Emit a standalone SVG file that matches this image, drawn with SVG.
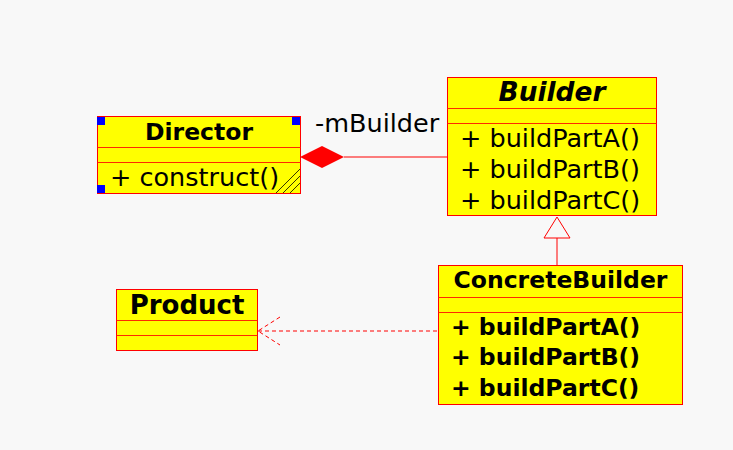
<svg xmlns="http://www.w3.org/2000/svg" width="733" height="450" viewBox="0 0 733 450">
<style>
.box{fill:#ffff00;stroke:#ff0000;stroke-width:1}
.sep{stroke:#ff2a00;stroke-width:1}
.t{font-family:"DejaVu Sans",sans-serif;fill:#000}
.r{font-size:25.5px}
.b{font-size:23.5px;font-weight:bold}
.h{fill:#0000ff}
.con{stroke:#ff0000;stroke-width:1;fill:none}
</style>
<rect width="733" height="450" fill="#f8f8f8"/>
<g id="connectors">
<line class="con" x1="344" y1="157" x2="447" y2="157"/>
<polygon points="300,157 322,146 344,157 322,168" fill="#ff0000"/>
<line class="con" x1="557" y1="238" x2="557" y2="266"/>
<polygon points="557,217 544,238 570,238" fill="#f8f8f8" stroke="#ff0000"/>
<line class="con" x1="258" y1="331" x2="438" y2="331" stroke-dasharray="4,3"/>
<polyline class="con" points="280,317 258,331 280,345" stroke-dasharray="4,3"/>
</g>
<g id="Director">
<rect class="box" x="97.5" y="116.5" width="203" height="77"/>
<line class="sep" x1="97.5" y1="147.5" x2="300.5" y2="147.5"/>
<line class="sep" x1="97.5" y1="162.5" x2="300.5" y2="162.5"/>
<text class="t b" x="199" y="140" text-anchor="middle">Director</text>
<text class="t r" x="110" y="186">+ construct()</text>
<rect class="h" x="97" y="117" width="8" height="8"/>
<rect class="h" x="292" y="117" width="8" height="8"/>
<rect class="h" x="97" y="185" width="8" height="8"/>
<g stroke="#000" stroke-width="0.8">
<line x1="276" y1="193" x2="300" y2="169"/>
<line x1="283" y1="193" x2="300" y2="176"/>
<line x1="290" y1="193" x2="300" y2="183"/>
</g>
</g>
<g id="Builder">
<rect class="box" x="447.5" y="77.5" width="209" height="138"/>
<line class="sep" x1="447.5" y1="108.5" x2="656.5" y2="108.5"/>
<line class="sep" x1="447.5" y1="123.5" x2="656.5" y2="123.5"/>
<text class="t" x="552" y="101" text-anchor="middle" font-size="26.4" font-weight="bold" font-style="italic">Builder</text>
<text class="t r" x="460" y="147">+ buildPartA()</text>
<text class="t r" x="460" y="178">+ buildPartB()</text>
<text class="t r" x="460" y="209">+ buildPartC()</text>
</g>
<g id="ConcreteBuilder">
<rect class="box" x="438.5" y="265.5" width="244" height="139"/>
<line class="sep" x1="438.5" y1="297.5" x2="682.5" y2="297.5"/>
<line class="sep" x1="438.5" y1="312.5" x2="682.5" y2="312.5"/>
<text class="t b" x="560.5" y="288" text-anchor="middle">ConcreteBuilder</text>
<text class="t b" x="451" y="335">+ buildPartA()</text>
<text class="t b" x="451" y="365">+ buildPartB()</text>
<text class="t b" x="451" y="396">+ buildPartC()</text>
</g>
<g id="Product">
<rect class="box" x="116.5" y="289.5" width="141" height="61"/>
<line class="sep" x1="116.5" y1="320.5" x2="257.5" y2="320.5"/>
<line class="sep" x1="116.5" y1="335.5" x2="257.5" y2="335.5"/>
<text class="t" x="187" y="314" text-anchor="middle" font-size="26" font-weight="bold">Product</text>
</g>
<g id="label">
<text class="t r" x="315" y="132">-mBuilder</text>
</g>
</svg>
